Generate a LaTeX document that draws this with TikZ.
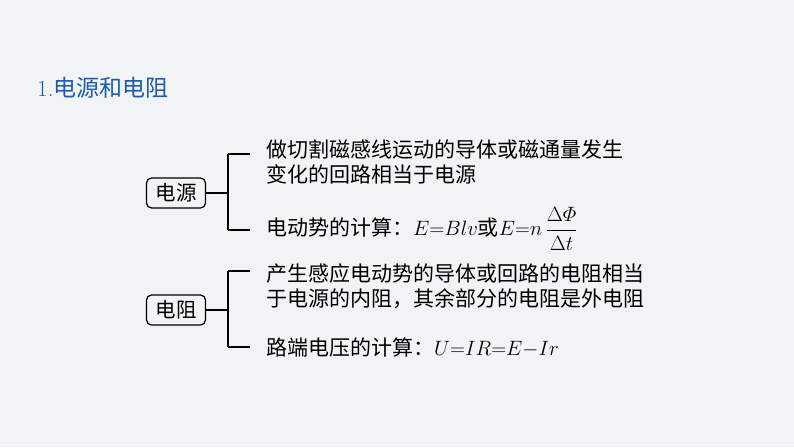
\documentclass[tikz,border=0pt]{standalone}
\usepackage{amsmath}
\usepackage{fontspec}
\newfontfamily\cjk{Noto Sans CJK SC}
\definecolor{sfondo}{RGB}{242,243,245}
\definecolor{titolo}{RGB}{28,92,170}
\tikzset{
  voce/.style={draw,line width=1.2pt,rounded corners=5pt,minimum width=59pt,minimum height=30pt,inner sep=2pt,font=\cjk\fontsize{20.5}{24}\selectfont},
  testo/.style={anchor=west,inner sep=0pt,align=left,font=\cjk\fontsize{21}{24.5}\selectfont},
  ramo/.style={line width=1.2pt}
}
\begin{document}
\begin{tikzpicture}[x=1pt,y=-1pt]
        \fill[sfondo] (0,0) rectangle (794,447);
        \useasboundingbox (0,0) rectangle (794,447);
        \node[anchor=west,inner sep=0pt,text=titolo,font=\fontsize{23}{26}\selectfont] (tit) at (37,88) {1.{\cjk 电源和电阻}};
        % primo gruppo: sorgente
        \node[voce] (src) at (176,193) {电源};
        \coordinate (srcJ) at (228,193);
        \coordinate (srcA) at (228,154);
        \coordinate (srcB) at (228,230);
        \node[testo] (srcT1) at (266,162) {做切割磁感线运动的导体或磁通量发生\\变化的回路相当于电源};
        \node[testo] (srcT2) at (266,229) {电动势的计算：$E{=}Blv$或$E{=}n\,\dfrac{\Delta\varPhi}{\Delta t}$};
        \draw[ramo] (src.east) -- (srcJ);
        \draw[ramo] (srcA) -- (srcB);
        \draw[ramo] (srcA) -- ++(22,0);
        \draw[ramo] (srcB) -- ++(22,0);
        % secondo gruppo: resistenza
        \node[voce] (res) at (176,310) {电阻};
        \coordinate (resJ) at (228,310);
        \coordinate (resA) at (228,271);
        \coordinate (resB) at (228,347);
        \node[testo] (resT1) at (266,286) {产生感应电动势的导体或回路的电阻相当\\于电源的内阻，其余部分的电阻是外电阻};
        \node[testo] (resT2) at (266,347) {路端电压的计算：$U{=}IR{=}E{-}Ir$};
        \draw[ramo] (res.east) -- (resJ);
        \draw[ramo] (resA) -- (resB);
        \draw[ramo] (resA) -- ++(22,0);
        \draw[ramo] (resB) -- ++(22,0);
\end{tikzpicture}
\end{document}
